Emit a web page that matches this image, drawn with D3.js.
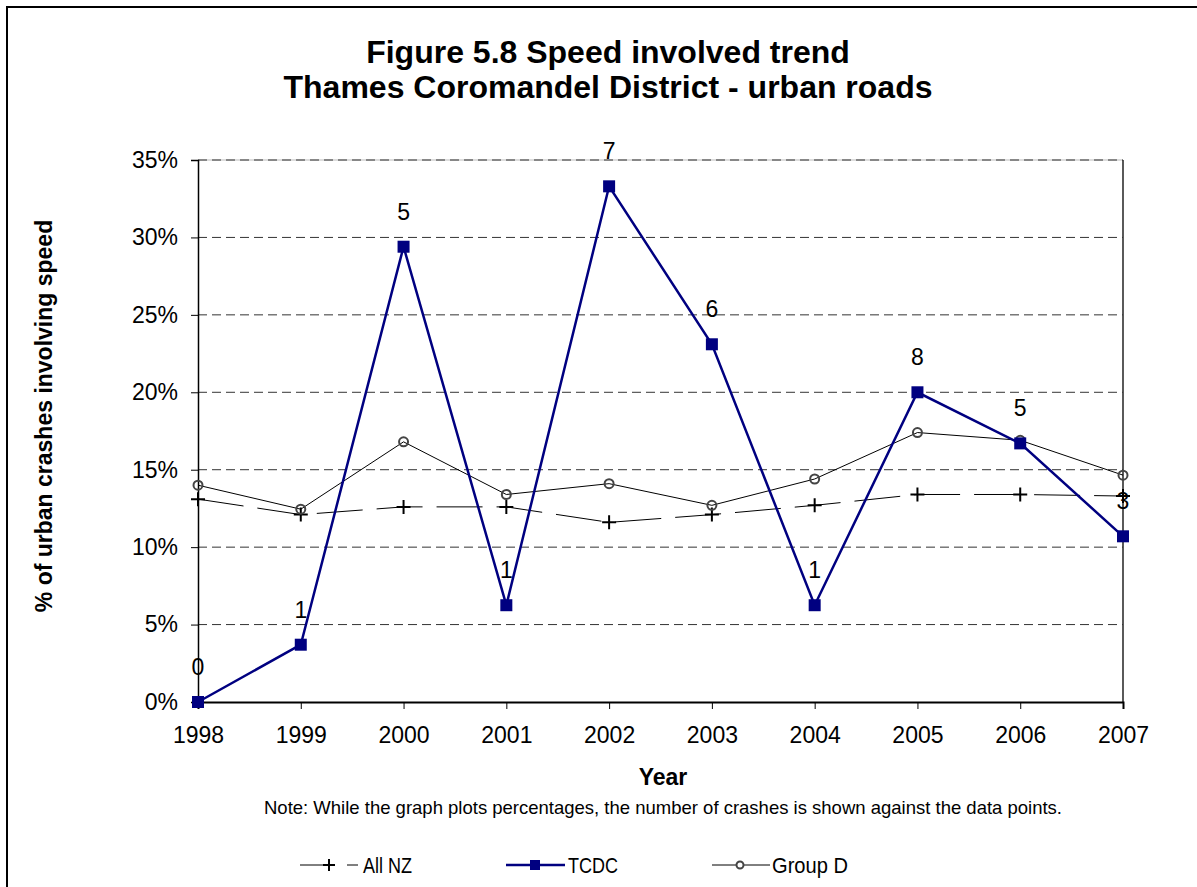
<!DOCTYPE html>
<html><head><meta charset="utf-8">
<script src="https://cdn.jsdelivr.net/npm/d3@7"></script>
<style>body{margin:0;background:#fff;} svg{display:block;font-family:"Liberation Sans",Arial,sans-serif;}</style>
</head><body>
<svg id="c" width="1197" height="887"></svg>
<script>
const years = [1998,1999,2000,2001,2002,2003,2004,2005,2006,2007];
const allNZ = [13.1,12.1,12.6,12.6,11.6,12.1,12.7,13.4,13.4,13.3];
const tcdc = [0,3.7,29.4,6.25,33.3,23.1,6.25,20.0,16.7,10.7];
const groupD = [14.0,12.45,16.8,13.4,14.1,12.7,14.4,17.4,16.9,14.65];
const tcdcCounts = [0,1,5,1,7,6,1,8,5,3];
const yTicks = [0,5,10,15,20,25,30,35];

const svg = d3.select("#c");
const L=198, R=1123, T=160, B=702;
const x = d3.scalePoint().domain(years).range([L,R]);
const y = d3.scaleLinear().domain([0,35]).range([B,T]);

// outer border
svg.append("rect").attr("x",7).attr("y",7).attr("width",1200).attr("height",900)
  .attr("fill","none").attr("stroke","#000").attr("stroke-width",2);

// plot area border (top light, right solid)
svg.append("line").attr("x1",L).attr("x2",R).attr("y1",T).attr("y2",T).attr("stroke","#bbb").attr("stroke-width",1);
svg.append("line").attr("x1",R).attr("x2",R).attr("y1",T).attr("y2",B).attr("stroke","#000").attr("stroke-width",1.3);

// gridlines
svg.append("g").selectAll("line").data(yTicks.filter(d=>d>0)).join("line")
  .attr("x1",L).attr("x2",R).attr("y1",d=>y(d)).attr("y2",d=>y(d))
  .attr("stroke","#333").attr("stroke-width",1).attr("stroke-dasharray","9,5");

// axes
const ya = svg.append("g").attr("transform",`translate(${L},0)`)
  .call(d3.axisLeft(y).tickValues(yTicks).tickFormat(d=>d+"%").tickSize(7).tickPadding(13));
const xa = svg.append("g").attr("transform",`translate(0,${B})`)
  .call(d3.axisBottom(x).tickSize(7).tickPadding(18));
[ya,xa].forEach(a=>{
  a.select(".domain").attr("stroke","#000").attr("stroke-width",1.5);
  a.selectAll(".tick line").attr("stroke","#000").attr("stroke-width",1);
  a.selectAll("text").attr("font-size",23).attr("fill","#000").attr("font-family","Liberation Sans, Arial, sans-serif");
});
xa.select(".domain").attr("stroke-width",2);

const line = d3.line().x((d,i)=>x(years[i])).y(d=>y(d));

// Group D
svg.append("path").datum(groupD).attr("d",line).attr("fill","none").attr("stroke","#000").attr("stroke-width",1);
// All NZ
svg.append("path").datum(allNZ).attr("d",line).attr("fill","none").attr("stroke","#000").attr("stroke-width",1).attr("stroke-dasharray","46,14");
svg.append("g").selectAll("path").data(allNZ).join("path")
  .attr("d",(d,i)=>`M${x(years[i])-7},${y(d)}h14M${x(years[i])},${y(d)-7}v14`)
  .attr("stroke","#000").attr("stroke-width",2);
svg.append("g").selectAll("circle").data(groupD).join("circle")
  .attr("cx",(d,i)=>x(years[i])).attr("cy",d=>y(d)).attr("r",4.5)
  .attr("fill","none").attr("stroke","#444").attr("stroke-width",2);
// TCDC
svg.append("path").datum(tcdc).attr("d",line).attr("fill","none").attr("stroke","#000080").attr("stroke-width",2.5);
svg.append("g").selectAll("rect").data(tcdc).join("rect")
  .attr("x",(d,i)=>x(years[i])-6).attr("y",d=>y(d)-6).attr("width",12).attr("height",12).attr("fill","#000080");
svg.append("g").selectAll("text").data(tcdcCounts).join("text")
  .attr("x",(d,i)=>x(years[i])).attr("y",(d,i)=>y(tcdc[i])-27)
  .attr("text-anchor","middle").attr("font-size",23).attr("fill","#000").text(d=>d);

// Titles
svg.append("text").attr("x",608).attr("y",63).attr("text-anchor","middle").attr("font-size",32).attr("font-weight","bold").text("Figure 5.8 Speed involved trend");
svg.append("text").attr("x",608).attr("y",98).attr("text-anchor","middle").attr("font-size",32).attr("font-weight","bold").text("Thames Coromandel District - urban roads");
svg.append("text").attr("transform","translate(52,416) rotate(-90)").attr("text-anchor","middle").attr("font-size",23).attr("font-weight","bold").text("% of urban crashes involving speed");
svg.append("text").attr("x",663).attr("y",785).attr("text-anchor","middle").attr("font-size",23).attr("font-weight","bold").text("Year");
svg.append("text").attr("x",663).attr("y",814).attr("text-anchor","middle").attr("font-size",18.5).text("Note: While the graph plots percentages, the number of crashes is shown against the data points.");

// Legend
const ly = 865;
const lg = svg.append("g");
lg.append("line").attr("x1",300).attr("x2",335).attr("y1",ly).attr("y2",ly).attr("stroke","#000").attr("stroke-width",1);
lg.append("line").attr("x1",347).attr("x2",358).attr("y1",ly).attr("y2",ly).attr("stroke","#000").attr("stroke-width",1);
lg.append("path").attr("d",`M${329-6},${ly}h12M329,${ly-6}v12`).attr("stroke","#000").attr("stroke-width",2);
lg.append("text").attr("x",363).attr("y",ly+8).attr("font-size",22).attr("textLength",49).attr("lengthAdjust","spacingAndGlyphs").text("All NZ");
lg.append("line").attr("x1",506).attr("x2",565).attr("y1",ly).attr("y2",ly).attr("stroke","#000080").attr("stroke-width",2.5);
lg.append("rect").attr("x",530).attr("y",ly-5).attr("width",10).attr("height",10).attr("fill","#000080");
lg.append("text").attr("x",568).attr("y",ly+8).attr("font-size",22).attr("textLength",50).attr("lengthAdjust","spacingAndGlyphs").text("TCDC");
lg.append("line").attr("x1",712).attr("x2",770).attr("y1",ly).attr("y2",ly).attr("stroke","#000").attr("stroke-width",1);
lg.append("circle").attr("cx",740).attr("cy",ly).attr("r",3.5).attr("fill","#fff").attr("stroke","#444").attr("stroke-width",2);
lg.append("text").attr("x",772).attr("y",ly+8).attr("font-size",22).attr("textLength",76).attr("lengthAdjust","spacingAndGlyphs").text("Group D");
</script>
</body></html>
